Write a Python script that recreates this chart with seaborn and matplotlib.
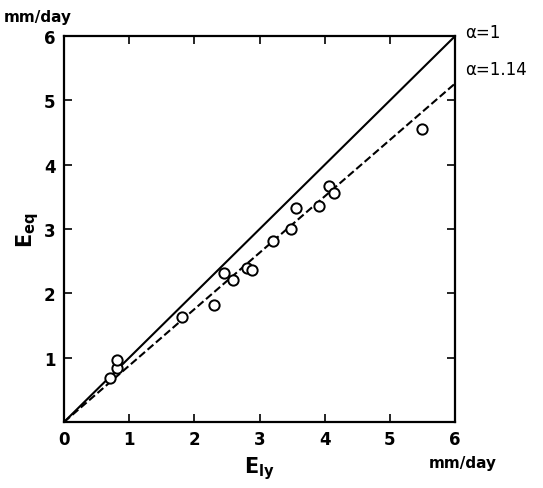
import matplotlib
matplotlib.use("Agg")
import matplotlib.pyplot as plt
import seaborn as sns
import numpy as np
import pandas as pd

# data
e_ly = [0.71, 0.81, 0.81, 1.81, 2.30, 2.45, 2.59, 2.81, 2.88, 3.21, 3.48, 3.56, 3.91, 4.06, 4.14, 5.49]
e_eq = [0.68, 0.84, 0.96, 1.63, 1.82, 2.32, 2.21, 2.40, 2.36, 2.81, 3.00, 3.33, 3.36, 3.67, 3.56, 4.55]
alphas = [1.0, 1.14]
alpha_labels = ["α=1", "α=1.14"]
x_ticks = [0, 1, 2, 3, 4, 5, 6]
y_ticks = [1, 2, 3, 4, 5, 6]

sns.set_theme(style="white")
plt.rcParams['font.family'] = ['DejaVu Sans']
plt.rcParams['text.color'] = 'black'
plt.rcParams['axes.labelcolor'] = 'black'
plt.rcParams['xtick.color'] = 'black'
plt.rcParams['ytick.color'] = 'black'

fig = plt.figure(figsize=(5.43, 4.89), dpi=100)
ax = fig.add_axes([0.118, 0.135, 0.720, 0.789])

df = pd.DataFrame({"x": e_ly, "y": e_eq})
xs = np.array([0.0, 6.0])
styles = ["-", "--"]
for a, ls in zip(alphas, styles):
    sns.lineplot(x=xs, y=xs / a, ax=ax, color="black", lw=1.5, linestyle=ls,
                 dashes=(4, 3) if ls == "--" else None)
sns.scatterplot(data=df, x="x", y="y", ax=ax, marker="o", s=55,
                facecolor="white", edgecolor="black", linewidth=1.4, zorder=3)

ax.set_xlim(0, 6)
ax.set_ylim(0, 6)
ax.set_xticks(x_ticks)
ax.set_yticks(y_ticks)
ax.set_xticklabels([str(t) for t in x_ticks], fontsize=12, fontweight="bold")
ax.set_yticklabels([str(t) for t in y_ticks], fontsize=12, fontweight="bold")
ax.tick_params(direction="in", length=6, width=1.2, top=True, right=True,
               bottom=True, left=True, labeltop=False, labelright=False, pad=6)
for s in ax.spines.values():
    s.set_color("black")
    s.set_linewidth(1.6)

ax.set_xlabel(r"$\mathbf{E_{ly}}$", fontsize=15, labelpad=4)
ax.set_ylabel(r"$\mathbf{E_{eq}}$", fontsize=15, labelpad=2)

fig.text(0.006, 0.965, "mm/day", ha="left", va="center",
         fontsize=11, fontweight="bold")
ax.text(1.02, -0.085, "mm/day", transform=ax.transAxes, ha="center", va="top",
        fontsize=11, fontweight="bold")
label_offsets = [0.07, 0.23]
for a, lab, off in zip(alphas, alpha_labels, label_offsets):
    ax.text(6.15, 6 / a + off, lab, ha="left", va="center", fontsize=12,
            clip_on=False)

fig.savefig("out.png", dpi=100)
